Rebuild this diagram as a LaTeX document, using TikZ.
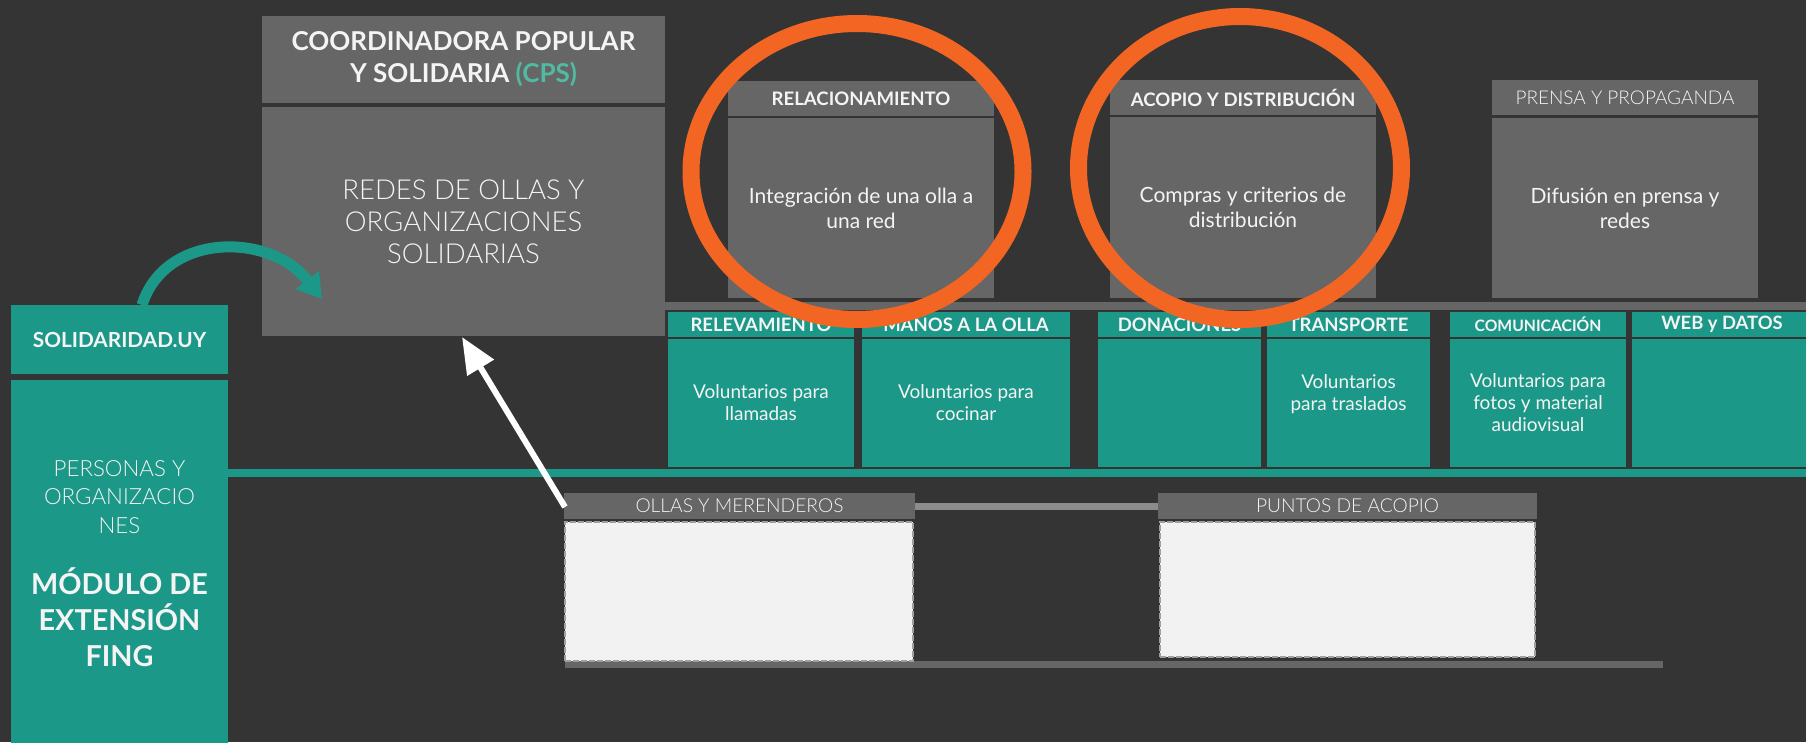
\documentclass[tikz,border=0pt]{standalone}
\usepackage{fontspec}
\setmainfont{Lato}
\newfontfamily\latolight{Lato Light}
\usetikzlibrary{arrows.meta,calc}
\definecolor{bg}{RGB}{52,52,52}
\definecolor{gbox}{RGB}{102,102,102}
\definecolor{tealc}{RGB}{27,152,136}
\definecolor{orng}{RGB}{242,101,34}
\definecolor{cpsc}{RGB}{80,186,162}
\definecolor{txt}{RGB}{244,244,244}
\definecolor{lightf}{RGB}{242,242,242}
\definecolor{connc}{RGB}{140,140,140}
\newcommand{\fsz}[2]{\fontsize{#1}{#2}\selectfont}
\begin{document}
\begin{tikzpicture}[x=1pt,y=-1pt,
  base/.style={inner sep=0pt, outer sep=0pt, anchor=north west, text=txt, align=center},
  gbx/.style={base, fill=gbox},
  tbx/.style={base, fill=tealc},
  lbx/.style={base, fill=lightf, draw=gray!75, dash pattern=on 6pt off 2pt, line width=1.5pt},
  ghead/.style={gbx, font=\bfseries\fsz{18.6}{22}},
  gbody/.style={gbx, font=\fsz{21}{25}},
  thead/.style={tbx, font=\bfseries\fsz{18.5}{20}},
  tbody/.style={tbx, font=\fsz{19}{22}},
  lhead/.style={gbx, font=\latolight\fsz{19.2}{20}},
  plain/.style={inner sep=0pt, text=txt, align=center}
]
\useasboundingbox (0,0) rectangle (1806,742);
\fill[bg] (0,0) rectangle (1806,742);
\begin{scope}
\clip (0,0) rectangle (1806,742);

% CPS
\node[gbx, minimum width=403pt, minimum height=87pt, font=\bfseries\fsz{26}{32}] (cpshead) at (262,16)
  {COORDINADORA POPULAR\\Y SOLIDARIA {\color{cpsc}(CPS)}};
\node[gbx, minimum width=403pt, minimum height=229pt, font=\latolight\fsz{27.5}{32}] (redes) at (262,107)
  {REDES DE OLLAS Y\\ORGANIZACIONES\\SOLIDARIAS};

% left teal column
\node[tbx, minimum width=217pt, minimum height=69pt, font=\bfseries\fsz{20.8}{22}] (solid) at (11,305) {SOLIDARIDAD.UY};
\node[tbx, minimum width=217pt, minimum height=380pt] (personas) at (11,380) {};
\node[plain, font=\latolight\fsz{22.3}{28.5}] (perstext) at (119.5,497) {PERSONAS Y\\ORGANIZACIO\\NES};
\node[plain, font=\bfseries\fsz{28.8}{36}] (modtext) at (119.5,617) {MÓDULO DE\\EXTENSIÓN\\FING};

% horizontal bars
\fill[gbox] (665,302) rectangle (1806,310);
\fill[tealc] (228,469) rectangle (1806,477);

% top gray boxes
\node[ghead, minimum width=266pt, minimum height=35pt] (relh) at (728,81) {RELACIONAMIENTO};
\node[gbody, minimum width=266pt, minimum height=180pt] (relb) at (728,118) {Integración de una olla a\\una red};
\node[ghead, minimum width=266pt, minimum height=35pt] (acoh) at (1110,80) {ACOPIO Y DISTRIBUCIÓN};
\node[gbody, minimum width=266pt, minimum height=181pt] (acob) at (1110,117) {Compras y criterios de\\distribución};
\node[gbx, font=\latolight\fsz{19}{22}, minimum width=266pt, minimum height=35pt] (preh) at (1492,80) {PRENSA Y PROPAGANDA};
\node[gbody, minimum width=266pt, minimum height=180pt] (preb) at (1492,118) {Difusión en prensa y\\redes};

% teal boxes
\node[thead, minimum width=186pt, minimum height=25pt] (relvh) at (668,312) {RELEVAMIENTO};
\node[tbody, minimum width=186pt, minimum height=128pt] (relvb) at (668,339) {Voluntarios para\\llamadas};
\node[thead, minimum width=208pt, minimum height=25pt] (manh) at (862,312) {MANOS A LA OLLA};
\node[tbody, minimum width=208pt, minimum height=128pt] (manb) at (862,339) {Voluntarios para\\cocinar};
\node[thead, minimum width=163pt, minimum height=25pt] (donh) at (1098,312) {DONACIONES};
\node[tbody, minimum width=163pt, minimum height=128pt] (donb) at (1098,339) {};
\node[thead, minimum width=163pt, minimum height=25pt] (trah) at (1267,312) {TRANSPORTE};
\node[tbody, minimum width=163pt, minimum height=128pt] (trab) at (1267,339) {Voluntarios\\para traslados\\\mbox{}};
\node[thead, font=\bfseries\fsz{15.7}{18}, minimum width=176pt, minimum height=25pt] (comh) at (1450,312) {COMUNICACIÓN};
\node[tbody, minimum width=176pt, minimum height=128pt] (comb) at (1450,339) {Voluntarios para\\fotos y material\\audiovisual};
\node[thead, font=\bfseries\fsz{18.4}{20}, minimum width=180pt, minimum height=25pt] (webh) at (1632,312) {WEB y DATOS};
\node[tbody, minimum width=180pt, minimum height=128pt] (webb) at (1632,339) {};

% bottom boxes
\fill[gbox] (565,661) rectangle (1663,668);
\node[lhead, minimum width=351pt, minimum height=26pt] (ollash) at (564,493) {OLLAS Y MERENDEROS};
\node[lbx, minimum width=348pt, minimum height=139pt] (ollasb) at (565,522) {};
\node[lhead, minimum width=379pt, minimum height=26pt] (puntosh) at (1158,493) {PUNTOS DE ACOPIO};
\node[lbx, minimum width=375pt, minimum height=135pt] (puntosb) at (1160,522) {};
\draw[connc, line width=7pt] (ollash.east) -- (puntosh.west);

% arrows
\coordinate (tstart) at ($(solid.north)+(22.5,0)$);
\coordinate (ttip) at ($(redes.south west)+(60,-37)$);
\draw[tealc, line width=11pt, -{Triangle[length=24pt,width=28pt]}]
  (tstart) .. controls +(23,-73) and +(-52,-67) .. (ttip);
\coordinate (wstart) at ($(ollash.north west)+(1,14)$);
\coordinate (wtip) at ($(redes.south west)+(200,1)$);
\draw[white, line width=6pt, -{Triangle[length=36pt,width=30pt]}] (wstart) -- (wtip);

% highlight ellipses
\draw[orng, line width=17pt] (857,171.5) ellipse [x radius=166pt, y radius=148pt];
\draw[orng, line width=17pt] (1240,168) ellipse [x radius=161.5pt, y radius=151.5pt];
\end{scope}
\end{tikzpicture}
\end{document}
